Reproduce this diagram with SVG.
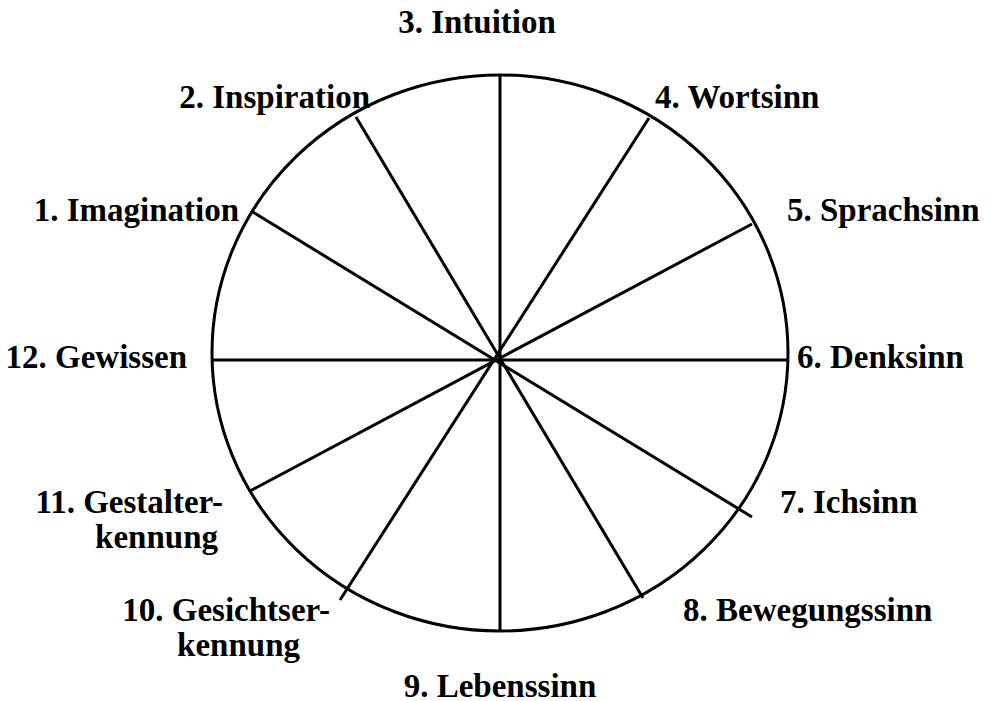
<svg xmlns="http://www.w3.org/2000/svg" width="991" height="701" viewBox="0 0 991 701">
<style>
.l{font-family:"Liberation Serif","Times New Roman",serif;font-weight:bold;font-size:33px;fill:#000}
.s{stroke:#000;stroke-width:3;fill:none}
</style>
<rect width="991" height="701" fill="#fff"/>
<g id="wheel">
<ellipse class="s" cx="500" cy="353" rx="288" ry="278" stroke-width="3.5"/>
</g>
<g id="connectors">
<line class="s" x1="500" y1="75" x2="500" y2="631"/>
<line class="s" x1="212" y1="360" x2="788" y2="360"/>
<line class="s" x1="649" y1="118" x2="340" y2="600"/>
<line class="s" x1="752" y1="224" x2="250" y2="491"/>
<line class="s" x1="356" y1="117" x2="643" y2="598"/>
<line class="s" x1="251" y1="211" x2="752" y2="517"/>
</g>
<g id="n3"><text class="l" x="477" y="33" text-anchor="middle">3. Intuition</text></g>
<g id="n2"><text class="l" x="370" y="108" text-anchor="end">2. Inspiration</text></g>
<g id="n4"><text class="l" x="655" y="108">4. Wortsinn</text></g>
<g id="n1"><text class="l" x="239" y="221" text-anchor="end">1. Imagination</text></g>
<g id="n5"><text class="l" x="787" y="221">5. Sprachsinn</text></g>
<g id="n12"><text class="l" x="187" y="368" text-anchor="end">12. Gewissen</text></g>
<g id="n6"><text class="l" x="797" y="368">6. Denksinn</text></g>
<g id="n11"><text class="l" x="223" y="513" text-anchor="end">11. Gestalter-</text><text class="l" x="218" y="548" text-anchor="end">kennung</text></g>
<g id="n7"><text class="l" x="780" y="513">7. Ichsinn</text></g>
<g id="n10"><text class="l" x="330" y="621" text-anchor="end">10. Gesichtser-</text><text class="l" x="300" y="656" text-anchor="end">kennung</text></g>
<g id="n8"><text class="l" x="683" y="621">8. Bewegungssinn</text></g>
<g id="n9"><text class="l" x="500" y="697" text-anchor="middle">9. Lebenssinn</text></g>
</svg>
